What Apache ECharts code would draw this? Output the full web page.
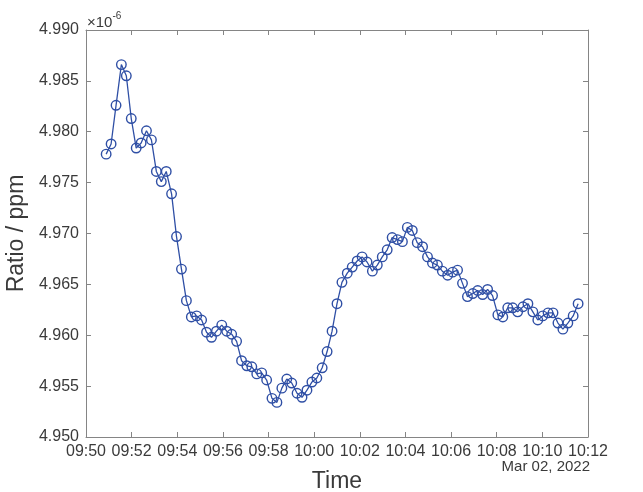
<!DOCTYPE html>
<html>
<head>
<meta charset="utf-8">
<script src="https://cdn.jsdelivr.net/npm/echarts@6/dist/echarts.min.js"></script>
<style>html,body{margin:0;padding:0;background:#fff;}#c{width:643px;height:492px;}</style>
</head>
<body>
<div id="c"></div>
<script>
// Measurement times (Mar 02, 2022)
const times = [
"09:50:53","09:51:06","09:51:19","09:51:33","09:51:46","09:51:59","09:52:12","09:52:25","09:52:39","09:52:52",
"09:53:05","09:53:18","09:53:31","09:53:45","09:53:58","09:54:11","09:54:24","09:54:37","09:54:51","09:55:04",
"09:55:17","09:55:30","09:55:43","09:55:57","09:56:10","09:56:23","09:56:36","09:56:49","09:57:03","09:57:16",
"09:57:29","09:57:42","09:57:55","09:58:09","09:58:22","09:58:35","09:58:48","09:59:01","09:59:15","09:59:28",
"09:59:41","09:59:54","10:00:07","10:00:21","10:00:34","10:00:47","10:01:00","10:01:13","10:01:27","10:01:40",
"10:01:53","10:02:06","10:02:19","10:02:33","10:02:46","10:02:59","10:03:12","10:03:25","10:03:39","10:03:52",
"10:04:05","10:04:18","10:04:31","10:04:45","10:04:58","10:05:11","10:05:24","10:05:37","10:05:51","10:06:04",
"10:06:17","10:06:30","10:06:43","10:06:57","10:07:10","10:07:23","10:07:36","10:07:49","10:08:03","10:08:16",
"10:08:29","10:08:42","10:08:55","10:09:09","10:09:22","10:09:35","10:09:48","10:10:01","10:10:15","10:10:28",
"10:10:41","10:10:54","10:11:07","10:11:21","10:11:34"
];
// Ratio values (x 1e-6 ppm)
const ratio = [
4.9778,4.9788,4.9826,4.9866,4.9855,4.9813,4.9784,4.9789,4.9801,4.9792,
4.9761,4.9751,4.9761,4.9739,4.9697,4.9665,4.9634,4.9618,4.9619,4.9615,
4.9603,4.9598,4.9604,4.9610,4.9604,4.9601,4.9594,4.9575,4.9570,4.9569,
4.9562,4.9563,4.9556,4.9538,4.9534,4.9548,4.9557,4.9553,4.9543,4.9539,
4.9546,4.9554,4.9558,4.9568,4.9584,4.9604,4.9631,4.9652,4.9661,4.9667,
4.9673,4.9677,4.9672,4.9663,4.9669,4.9677,4.9684,4.9696,4.9694,4.9692,
4.9706,4.9703,4.9691,4.9687,4.9677,4.9671,4.9669,4.9663,4.9659,4.9662,
4.9664,4.9651,4.9638,4.9641,4.9644,4.9640,4.9645,4.9639,4.9620,4.9618,
4.9627,4.9627,4.9623,4.9628,4.9631,4.9623,4.9615,4.9619,4.9622,4.9622,
4.9612,4.9606,4.9612,4.9619,4.9631
];
const xStart = "09:50", xEnd = "10:12";
const yTicks = ["4.950","4.955","4.960","4.965","4.970","4.975","4.980","4.985","4.990"];

function toMs(s){
  const p = s.split(':').map(Number);
  return Date.UTC(2022,2,2,p[0],p[1],p[2]||0);
}
function fmt(v){
  const d = new Date(v);
  const h = String(d.getUTCHours()).padStart(2,'0');
  const m = String(d.getUTCMinutes()).padStart(2,'0');
  return h + ':' + m;
}
const data = times.map((t,i)=>[toMs(t), ratio[i]]);
const xMin = toMs(xStart), xMax = toMs(xEnd);
const yMin = Number(yTicks[0]), yMax = Number(yTicks[yTicks.length-1]);

const axisColor = '#858585';
const txt = '#3a3a3a';
const lineCol = '#2f4fa5';
const font = 'Liberation Sans, Arial, Helvetica, sans-serif';

const chart = echarts.init(document.getElementById('c'), null, {renderer:'canvas'});
chart.setOption({
  backgroundColor:'#ffffff',
  animation:false,
  grid:{left:86, top:30, right:55, bottom:55, containLabel:false, outerBoundsMode:'none'},
  xAxis:[{
    type:'value', min:xMin, max:xMax, interval:120000,
    axisLine:{show:true, onZero:false, lineStyle:{color:axisColor, width:1}},
    axisTick:{show:true, inside:true, length:5, lineStyle:{color:axisColor}},
    axisLabel:{formatter:fmt, fontSize:16, color:txt, margin:7, fontFamily:font, showMaxLabel:true, showMinLabel:true},
    splitLine:{show:false},
    name:'Time', nameLocation:'middle', nameGap:33,
    nameTextStyle:{fontSize:23, color:txt, fontFamily:font}
  },{
    type:'value', position:'top', min:xMin, max:xMax, interval:120000,
    axisLine:{show:true, onZero:false, lineStyle:{color:axisColor, width:1}},
    axisTick:{show:true, inside:true, length:5, lineStyle:{color:axisColor}},
    axisLabel:{show:false}, splitLine:{show:false}
  }],
  yAxis:[{
    type:'value', min:yMin, max:yMax, interval:0.005,
    axisLine:{show:true, onZero:false, lineStyle:{color:axisColor, width:1}},
    axisTick:{show:true, inside:true, length:5, lineStyle:{color:axisColor}},
    axisLabel:{formatter:v=>v.toFixed(3), fontSize:16, color:txt, margin:7, fontFamily:font},
    splitLine:{show:false},
    name:'Ratio / ppm', nameLocation:'middle', nameGap:40, nameRotate:90,
    nameTextStyle:{fontSize:23, color:txt, fontFamily:font}
  },{
    type:'value', position:'right', min:yMin, max:yMax, interval:0.005,
    axisLine:{show:true, onZero:false, lineStyle:{color:axisColor, width:1}},
    axisTick:{show:true, inside:true, length:5, lineStyle:{color:axisColor}},
    axisLabel:{show:false}, splitLine:{show:false}
  }],
  series:[{
    type:'line', xAxisIndex:0, yAxisIndex:0, data:data,
    symbol:'circle', symbolSize:9.5, showAllSymbol:true,
    lineStyle:{color:lineCol, width:1.3},
    itemStyle:{color:'rgba(255,255,255,0)', borderColor:lineCol, borderWidth:1.4},
    emphasis:{disabled:true}
  }],
  graphic:[{
    type:'text', left:87, top:11,
    style:{
      text:'{a|×10}{b|-6}',
      rich:{
        a:{fontSize:15, fill:txt, fontFamily:font, verticalAlign:'bottom'},
        b:{fontSize:10, fill:txt, fontFamily:font, verticalAlign:'top', padding:[0,0,9,0]}
      }
    }
  },{
    type:'text', right:53, top:459,
    style:{text:'Mar 02, 2022', fontSize:15, fill:txt, fontFamily:font}
  }]
});
</script>
</body>
</html>
